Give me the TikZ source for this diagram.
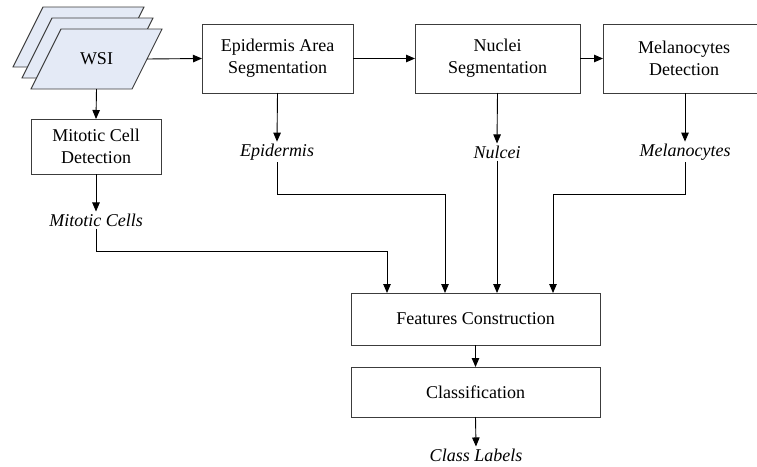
\documentclass[tikz,border=0pt]{standalone}
\usepackage{fontspec}
\setmainfont{Liberation Serif}
\usetikzlibrary{arrows.meta}
\definecolor{slidefill}{RGB}{228,234,246}
\definecolor{linegray}{RGB}{60,60,60}
\tikzset{
    stepbox/.style={draw=linegray, line width=0.9pt, align=center, inner sep=0pt, outer sep=0pt},
    outlabel/.style={font=\fontsize{18}{22}\selectfont\itshape, inner sep=2pt},
    arr/.style={-{Triangle[length=9pt,width=7.5pt]}, line width=0.9pt},
    conn/.style={line width=0.9pt}
}
\begin{document}
\begin{tikzpicture}[x=1pt,y=-1pt,font=\fontsize{18}{22}\selectfont]
\useasboundingbox (0,0) rectangle (757,466);
\foreach \d in {2,1,0}
  \filldraw[fill=slidefill, draw=linegray, line width=0.9pt, shift={(-9*\d,-11*\d)}] (31,89) -- (132,89) -- (162,29) -- (61,29) -- cycle;
\node[inner sep=0pt, outer sep=0pt, minimum width=101pt, minimum height=60pt] (wsi) at (96.5,59) {WSI};
\node[stepbox, minimum width=151pt, minimum height=69pt] (epi) at (277.5,58.5) {Epidermis Area\\Segmentation};
\node[stepbox, minimum width=165pt, minimum height=69pt] (nuc) at (497.5,58.5) {Nuclei\\Segmentation};
\node[stepbox, minimum width=162pt, minimum height=69pt] (mel) at (684,58.5) {Melanocytes\\Detection};
\node[stepbox, minimum width=130pt, minimum height=55pt] (mit) at (96,146.5) {Mitotic Cell\\Detection};
\node[stepbox, minimum width=249pt, minimum height=52pt] (feat) at (475.5,319) {Features Construction};
\node[stepbox, minimum width=249pt, minimum height=50pt] (cls) at (475.5,392) {Classification};
\node[outlabel] (epiOut) at (277,152) {Epidermis};
\node[outlabel] (nucOut) at (497,152) {Nulcei};
\node[outlabel] (melOut) at (685,152) {Melanocytes};
\node[outlabel] (mitOut) at (96,220) {Mitotic Cells};
\node[outlabel] (clsOut) at (476,455) {Class Labels};
\coordinate (mitTurn) at (387,251);
\coordinate (epiTurn) at (445,194);
\coordinate (melTurn) at (553,194);
\draw[arr] (wsi.east) -- (epi.west);
\draw[arr] (epi.east) -- (nuc.west);
\draw[arr] (nuc.east) -- (mel.west);
\draw[arr] (wsi.south) -- (mit.north);
\draw[arr] (mit.south) -- (mitOut.north);
\draw[arr] (epi.south) -- (epiOut.north);
\draw[arr] (nuc.south) -- (nucOut.north);
\draw[arr] (685,93) -- (melOut.north);
\draw[arr] (mitOut.south) |- (mitTurn) -- (mitTurn |- feat.north);
\draw[arr] (epiOut.south) |- (epiTurn) -- (epiTurn |- feat.north);
\draw[arr] (nucOut.south) -- (nucOut |- feat.north);
\draw[arr] (melOut.south) |- (melTurn) -- (melTurn |- feat.north);
\draw[arr] (feat.south) -- (cls.north);
\draw[arr] (cls.south) -- (clsOut.north);
\end{tikzpicture}
\end{document}
